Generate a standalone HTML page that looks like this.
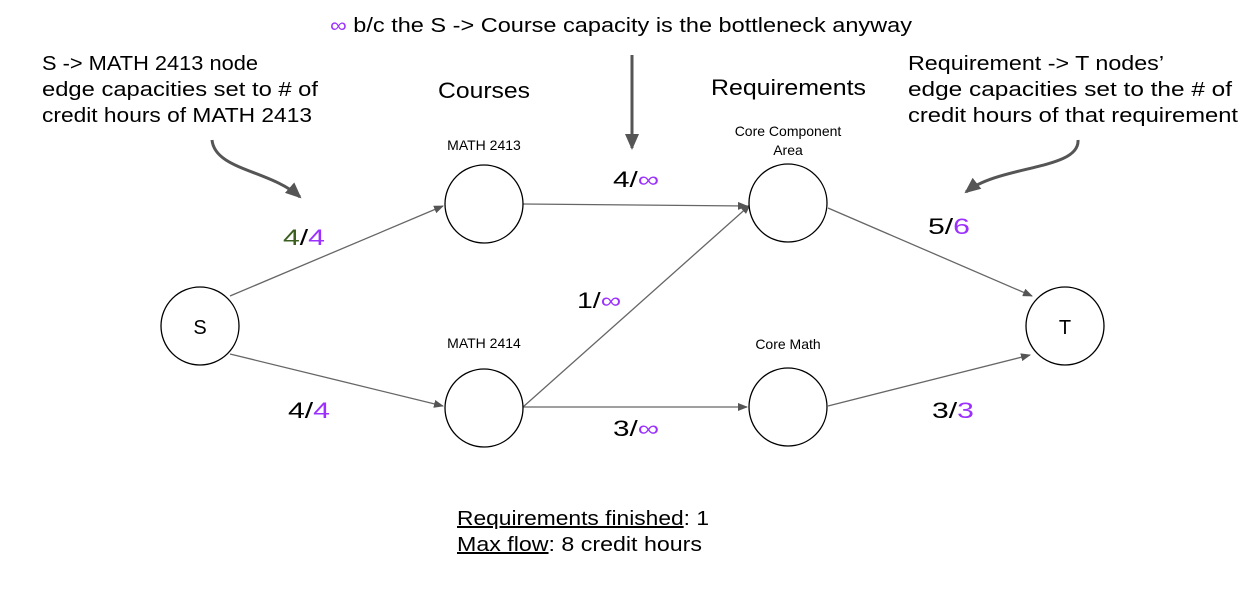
<!DOCTYPE html>
<html><head><style>body{margin:0;background:#fff}svg{display:block}</style></head><body>
<svg width="1257" height="595" viewBox="0 0 1257 595" xmlns="http://www.w3.org/2000/svg" font-family="Liberation Sans, sans-serif">
<defs>
<marker id="a" markerWidth="10" markerHeight="8" refX="9" refY="4" orient="auto" markerUnits="userSpaceOnUse"><path d="M0,0 L10,4 L0,8 z" fill="#555"/></marker>
<marker id="b" markerWidth="16" markerHeight="14" refX="14" refY="7" orient="auto" markerUnits="userSpaceOnUse"><path d="M0,0 L16,7 L0,14 z" fill="#555"/></marker>
</defs>
<g stroke="#666" stroke-width="1.3" fill="none">
<line x1="230" y1="296" x2="443" y2="206" marker-end="url(#a)"/>
<line x1="230" y1="354" x2="443" y2="406" marker-end="url(#a)"/>
<line x1="523" y1="204" x2="747" y2="206" marker-end="url(#a)"/>
<line x1="523" y1="407" x2="747" y2="407" marker-end="url(#a)"/>
<line x1="523" y1="407" x2="750" y2="205" marker-end="url(#a)"/>
<line x1="828" y1="208" x2="1032" y2="296" marker-end="url(#a)"/>
<line x1="828" y1="406" x2="1030" y2="355" marker-end="url(#a)"/>
</g>
<g stroke="#555" stroke-width="3" fill="none">
<path d="M212,140 C215,170 270,170 300,197" marker-end="url(#b)"/>
<path d="M632,55 L632,148" marker-end="url(#b)"/>
<path d="M1078,140 C1080,170 1000,165 966,192" marker-end="url(#b)"/>
</g>
<g stroke="#000" stroke-width="1.3" fill="#fff">
<circle cx="200" cy="326" r="39"/>
<circle cx="484" cy="204" r="39"/>
<circle cx="484" cy="408" r="39"/>
<circle cx="788" cy="203" r="39"/>
<circle cx="788" cy="407" r="39"/>
<circle cx="1065" cy="326" r="39"/>
</g>
<g font-size="20" fill="#000" text-anchor="middle">
<text x="200" y="334">S</text>
<text x="1065" y="334">T</text>
</g>
<g font-size="14" fill="#000" text-anchor="middle">
<text x="484" y="150">MATH 2413</text>
<text x="484" y="348">MATH 2414</text>
<text x="788" y="136">Core Component</text>
<text x="788" y="155">Area</text>
<text x="788" y="349">Core Math</text>
</g>
<g font-size="22" fill="#000">
<text x="438" y="98" textLength="92" lengthAdjust="spacingAndGlyphs">Courses</text>
<text x="711" y="95" textLength="155" lengthAdjust="spacingAndGlyphs">Requirements</text>
</g>
<g font-size="20" fill="#000" lengthAdjust="spacingAndGlyphs">
<text x="42" y="70" textLength="216" lengthAdjust="spacingAndGlyphs">S -&gt; MATH 2413 node</text>
<text x="42" y="96" textLength="276" lengthAdjust="spacingAndGlyphs">edge capacities set to # of</text>
<text x="42" y="122" textLength="270" lengthAdjust="spacingAndGlyphs">credit hours of MATH 2413</text>
<text x="908" y="70" textLength="256" lengthAdjust="spacingAndGlyphs">Requirement -&gt; T nodes’</text>
<text x="908" y="96" textLength="324" lengthAdjust="spacingAndGlyphs">edge capacities set to the # of</text>
<text x="908" y="122" textLength="330" lengthAdjust="spacingAndGlyphs">credit hours of that requirement</text>
<text x="330" y="32" textLength="582" lengthAdjust="spacingAndGlyphs"><tspan fill="#9b30ff">∞</tspan> b/c the S -&gt; Course capacity is the bottleneck anyway</text>
<text x="457" y="525" textLength="252" lengthAdjust="spacingAndGlyphs"><tspan text-decoration="underline">Requirements finished</tspan>: 1</text>
<text x="457" y="551" textLength="245" lengthAdjust="spacingAndGlyphs"><tspan text-decoration="underline">Max flow</tspan>: 8 credit hours</text>
</g>
<g font-size="22">
<text x="283" y="245" textLength="42" lengthAdjust="spacingAndGlyphs"><tspan fill="#3a5f1e">4</tspan><tspan fill="#000">/</tspan><tspan fill="#9b30ff">4</tspan></text>
<text x="288" y="418" textLength="42" lengthAdjust="spacingAndGlyphs"><tspan fill="#000">4/</tspan><tspan fill="#9b30ff">4</tspan></text>
<text x="613" y="187" textLength="46" lengthAdjust="spacingAndGlyphs"><tspan fill="#000">4/</tspan><tspan fill="#9b30ff">∞</tspan></text>
<text x="577" y="308" textLength="44" lengthAdjust="spacingAndGlyphs"><tspan fill="#000">1/</tspan><tspan fill="#9b30ff">∞</tspan></text>
<text x="613" y="436" textLength="46" lengthAdjust="spacingAndGlyphs"><tspan fill="#000">3/</tspan><tspan fill="#9b30ff">∞</tspan></text>
<text x="928" y="234" textLength="42" lengthAdjust="spacingAndGlyphs"><tspan fill="#000">5/</tspan><tspan fill="#9b30ff">6</tspan></text>
<text x="932" y="418" textLength="42" lengthAdjust="spacingAndGlyphs"><tspan fill="#000">3/</tspan><tspan fill="#9b30ff">3</tspan></text>
</g>
</svg>
</body></html>
